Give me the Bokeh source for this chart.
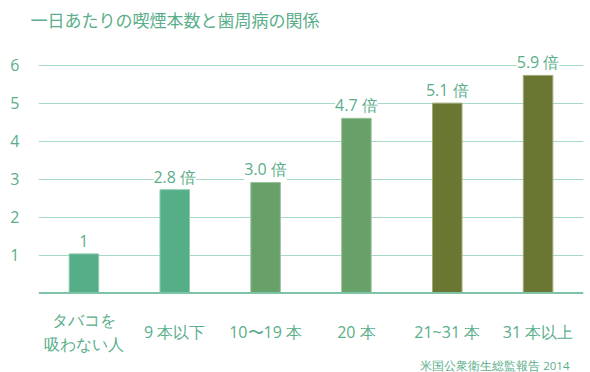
from bokeh.plotting import figure
from bokeh.models import ColumnDataSource, Label, Span, FixedTicker, FactorRange, Range1d, Title
from bokeh.core.properties import value
from bokeh.embed import file_html
from bokeh.resources import INLINE

categories = ["タバコを\n吸わない人", "9 本以下", "10〜19 本", "20 本", "21~31 本", "31 本以上"]
values = [1.03, 2.72, 2.91, 4.6, 5.0, 5.73]
value_labels = ["1", "2.8 倍", "3.0 倍", "4.7 倍", "5.1 倍", "5.9 倍"]
y_ticks = [1, 2, 3, 4, 5, 6]
title_text = "一日あたりの喫煙本数と歯周病の関係"
source_text = "米国公衆衛生総監報告  2014"

bar_colors = ["#55ae88", "#55ae88", "#68a06a", "#68a06a", "#6a7732", "#6a7732"]
bar_edges = ["#8ccbae", "#8ccbae", "#9cc19c", "#9cc19c", "#a0aa76", "#a0aa76"]
TEXT = "#5aae8a"
FONT = "Open Sans"
JFONT = "Noto Sans CJK JP"

src = ColumnDataSource(dict(cat=categories, val=values, lab=value_labels,
                            fill=bar_colors, edge=bar_edges,
                            ylab=[-1.02] * len(categories)))

p = figure(width=590, height=372, output_backend="svg", toolbar_location=None,
           x_range=FactorRange(factors=categories), y_range=Range1d(-2.094, 6.518),
           min_border_left=38, min_border_right=7, min_border_top=45, min_border_bottom=0)
p.outline_line_color = None
p.background_fill_color = "white"
p.border_fill_color = "white"

p.title.text = title_text
p.title.text_font = JFONT
p.title.text_font_size = "17px"
p.title.text_font_style = "normal"
p.title.text_color = TEXT
p.title.offset = -8
p.title.standoff = 2
p.title.vertical_align = "top"

# empty spacer between title and plot area
p.add_layout(Title(text=" ", text_font_size="1px", standoff=8), "above")

p.vbar(x="cat", top="val", width=0.325, source=src, fill_color="fill",
       line_color="edge", line_width=1)

p.xaxis.visible = False
ya = p.yaxis[0]
ya.ticker = FixedTicker(ticks=y_ticks)
ya.axis_line_color = None
ya.major_tick_line_color = None
ya.minor_tick_line_color = None
ya.major_label_standoff = 13
ya.major_label_text_font = FONT
ya.major_label_text_font_size = "16px"
ya.major_label_text_color = TEXT

p.xgrid.visible = False
p.ygrid.ticker = FixedTicker(ticks=y_ticks)
p.ygrid.grid_line_color = "#a6dac4"
p.ygrid.grid_line_width = 1
p.add_layout(Span(location=0, dimension="width", line_color="#7cc4a4", line_width=2))

p.text(x="cat", y="val", text="lab", source=src, y_offset=-13,
       text_align="center", text_baseline="middle",
       text_font=value(FONT), text_font_size="16px", text_color=TEXT,
       background_fill_color="white")

p.text(x="cat", y="ylab", text="cat", source=src,
       text_align="center", text_baseline="middle", text_line_height=1.1,
       text_font=value(FONT), text_font_size="16px", text_color=TEXT)

p.add_layout(Label(x=534, y=7, x_units="screen", y_units="screen", text=source_text,
                   text_align="right", text_baseline="middle", text_font=FONT,
                   text_font_size="11.5px", text_color=TEXT))

open("out.html", "w").write(file_html(p, INLINE))
